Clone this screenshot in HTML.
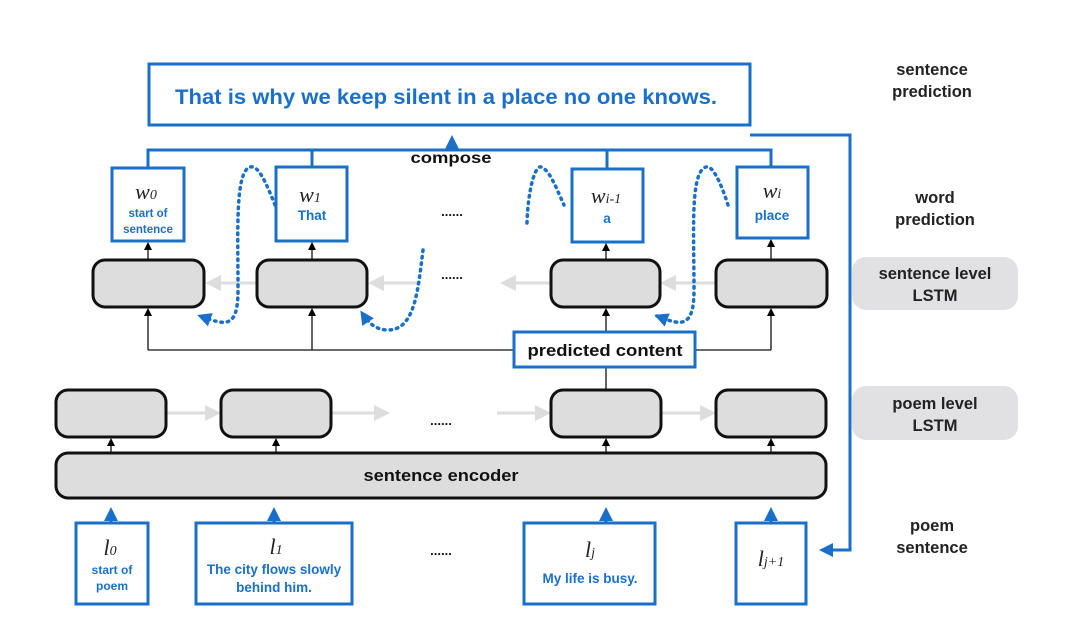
<!DOCTYPE html>
<html><head><meta charset="utf-8"><style>
html,body{margin:0;padding:0;background:#fff;}
svg{display:block;font-family:"Liberation Sans",Arial,sans-serif;}
.b{font-weight:bold;}
</style></head><body>
<svg width="1080" height="639" viewBox="0 0 1080 639" xmlns="http://www.w3.org/2000/svg">
<defs>
<marker id="ab" markerWidth="8" markerHeight="8" refX="6" refY="4" orient="auto" markerUnits="userSpaceOnUse"><path d="M0,0 L8,4 L0,8 Z" fill="#000"/></marker>
<marker id="abl" markerWidth="14" markerHeight="14" refX="11" refY="7" orient="auto" markerUnits="userSpaceOnUse"><path d="M0,0 L14,7 L0,14 Z" fill="#1a6fc9"/></marker>
<marker id="ag" markerWidth="16" markerHeight="16" refX="12" refY="8" orient="auto" markerUnits="userSpaceOnUse"><path d="M0,0 L16,8 L0,16 Z" fill="#ddd"/></marker>
</defs>
<g fill="none" stroke="#1a6fc9" stroke-width="3">
<rect x="149" y="64" width="601" height="61"/>
<rect x="112" y="168" width="72" height="73"/>
<rect x="276" y="167" width="71" height="74"/>
<rect x="572" y="169" width="71" height="73"/>
<rect x="737" y="167" width="71" height="71"/>
<rect x="76" y="523" width="72" height="81"/>
<rect x="196" y="523" width="156" height="81"/>
<rect x="524" y="523" width="131" height="81"/>
<rect x="736" y="523" width="70" height="81"/>
<polyline points="148,168 148,150 771,150 771,167"/>
<line x1="312" y1="150" x2="312" y2="167"/>
<line x1="607" y1="150" x2="607" y2="169"/>
<line x1="452" y1="150" x2="452" y2="138" marker-end="url(#abl)"/>
<polyline points="750,135 850,135 850,550 822,550" marker-end="url(#abl)"/>
<line x1="111" y1="523" x2="111" y2="510" marker-end="url(#abl)"/>
<line x1="274" y1="523" x2="274" y2="510" marker-end="url(#abl)"/>
<line x1="606" y1="523" x2="606" y2="510" marker-end="url(#abl)"/>
<line x1="771" y1="523" x2="771" y2="510" marker-end="url(#abl)"/>
</g>
<g fill="none" stroke="#ddd" stroke-width="3">
<line x1="257" y1="283" x2="209" y2="283" marker-end="url(#ag)"/>
<line x1="420" y1="283" x2="372" y2="283" marker-end="url(#ag)"/>
<line x1="550" y1="283" x2="504" y2="283" marker-end="url(#ag)"/>
<line x1="716" y1="283" x2="664" y2="283" marker-end="url(#ag)"/>
<line x1="166" y1="413" x2="217" y2="413" marker-end="url(#ag)"/>
<line x1="331" y1="413" x2="386" y2="413" marker-end="url(#ag)"/>
<line x1="497" y1="413" x2="547" y2="413" marker-end="url(#ag)"/>
<line x1="661" y1="413" x2="712" y2="413" marker-end="url(#ag)"/>
</g>
<g fill="#ddd" stroke="#111" stroke-width="3">
<rect x="93" y="260" width="111" height="47" rx="12"/>
<rect x="257" y="260" width="110" height="47" rx="12"/>
<rect x="551" y="260" width="109" height="47" rx="12"/>
<rect x="716" y="260" width="111" height="47" rx="12"/>
<rect x="56" y="390" width="110" height="47" rx="12"/>
<rect x="221" y="390" width="110" height="47" rx="12"/>
<rect x="551" y="390" width="110" height="47" rx="12"/>
<rect x="716" y="390" width="110" height="47" rx="12"/>
<rect x="56" y="453" width="770" height="45" rx="12"/>
</g>
<g fill="none" stroke="#111" stroke-width="1.3">
<polyline points="148,350 148,310" marker-end="url(#ab)"/>
<line x1="148" y1="350" x2="771" y2="350"/>
<line x1="312" y1="350" x2="312" y2="310" marker-end="url(#ab)"/>
<line x1="606" y1="332" x2="606" y2="310" marker-end="url(#ab)"/>
<line x1="771" y1="350" x2="771" y2="310" marker-end="url(#ab)"/>
<line x1="606" y1="367" x2="606" y2="390"/>
<line x1="148" y1="260" x2="148" y2="244" marker-end="url(#ab)"/>
<line x1="312" y1="260" x2="312" y2="244" marker-end="url(#ab)"/>
<line x1="606" y1="260" x2="606" y2="245" marker-end="url(#ab)"/>
<line x1="771" y1="260" x2="771" y2="241" marker-end="url(#ab)"/>
<line x1="111" y1="453" x2="111" y2="440" marker-end="url(#ab)"/>
<line x1="276" y1="453" x2="276" y2="440" marker-end="url(#ab)"/>
<line x1="606" y1="453" x2="606" y2="440" marker-end="url(#ab)"/>
<line x1="771" y1="453" x2="771" y2="440" marker-end="url(#ab)"/>
</g>
<rect x="514" y="332" width="181" height="35" fill="#fff" stroke="#1a6fc9" stroke-width="3"/>
<g fill="none" stroke="#1a6fc9" stroke-width="3.5" stroke-dasharray="1.5 5" stroke-linecap="round">
<path d="M275,205 C265,180 258,165 250,167 C235,172 238,230 238,290 C238,330 225,325 200,316" marker-end="url(#abl)"/>
<path d="M423,250 C418,290 415,330 388,330 C375,330 368,322 362,313" marker-end="url(#abl)"/>
<path d="M527,223 C528,190 535,165 541,167 C550,170 557,190 564,205"/>
<path d="M728,205 C720,180 712,165 706,167 C690,172 694,230 694,290 C694,330 680,325 657,316" marker-end="url(#abl)"/>
</g>
<g class="b" fill="#1a6fc9" text-anchor="middle">
<text x="446" y="104" font-size="21" textLength="542" lengthAdjust="spacingAndGlyphs">That is why we keep silent in a place no one knows.</text>
<text x="148" y="217" font-size="11.5">start of</text>
<text x="148" y="233" font-size="11.5">sentence</text>
<text x="312" y="220" font-size="13.5">That</text>
<text x="607" y="223" font-size="13.5">a</text>
<text x="772" y="220" font-size="13.5">place</text>
<text x="112" y="574" font-size="12">start of</text>
<text x="112" y="590" font-size="12">poem</text>
<text x="274" y="574" font-size="13.5">The city flows slowly</text>
<text x="274" y="592" font-size="13.5">behind him.</text>
<text x="590" y="583" font-size="13.5">My life is busy.</text>
</g>
<g font-family="Liberation Serif,serif" font-style="italic" font-size="22" fill="#222" text-anchor="middle">
<text x="146" y="199">w<tspan font-size="14">0</tspan></text>
<text x="310" y="202">w<tspan font-size="14">1</tspan></text>
<text x="606" y="203">w<tspan font-size="14">i-1</tspan></text>
<text x="772" y="198">w<tspan font-size="14">i</tspan></text>
<text x="110" y="555">l<tspan font-size="14">0</tspan></text>
<text x="276" y="554">l<tspan font-size="14">1</tspan></text>
<text x="590" y="557">l<tspan font-size="14">j</tspan></text>
<text x="771" y="566">l<tspan font-size="14">j+1</tspan></text>
</g>
<g class="b" fill="#111" text-anchor="middle">
<text x="451" y="163" font-size="16" textLength="81" lengthAdjust="spacingAndGlyphs">compose</text>
<text x="605" y="356" font-size="16.5" textLength="155" lengthAdjust="spacingAndGlyphs">predicted content</text>
<text x="441" y="481" font-size="16.5" textLength="155" lengthAdjust="spacingAndGlyphs">sentence encoder</text>
<text x="452" y="216" font-size="13">......</text>
<text x="452" y="279" font-size="13">......</text>
<text x="441" y="425" font-size="13">......</text>
<text x="441" y="555" font-size="13">......</text>
</g>
<rect x="852" y="257" width="166" height="53" rx="14" fill="#e1e1e3"/>
<rect x="852" y="386" width="166" height="54" rx="14" fill="#e1e1e3"/>
<g class="b" fill="#222" text-anchor="middle" font-size="16.5">
<text x="932" y="75">sentence</text>
<text x="932" y="97">prediction</text>
<text x="935" y="203">word</text>
<text x="935" y="225">prediction</text>
<text x="935" y="279">sentence level</text>
<text x="935" y="301">LSTM</text>
<text x="935" y="409">poem level</text>
<text x="935" y="431">LSTM</text>
<text x="932" y="531">poem</text>
<text x="932" y="553">sentence</text>
</g>
</svg>
</body></html>
